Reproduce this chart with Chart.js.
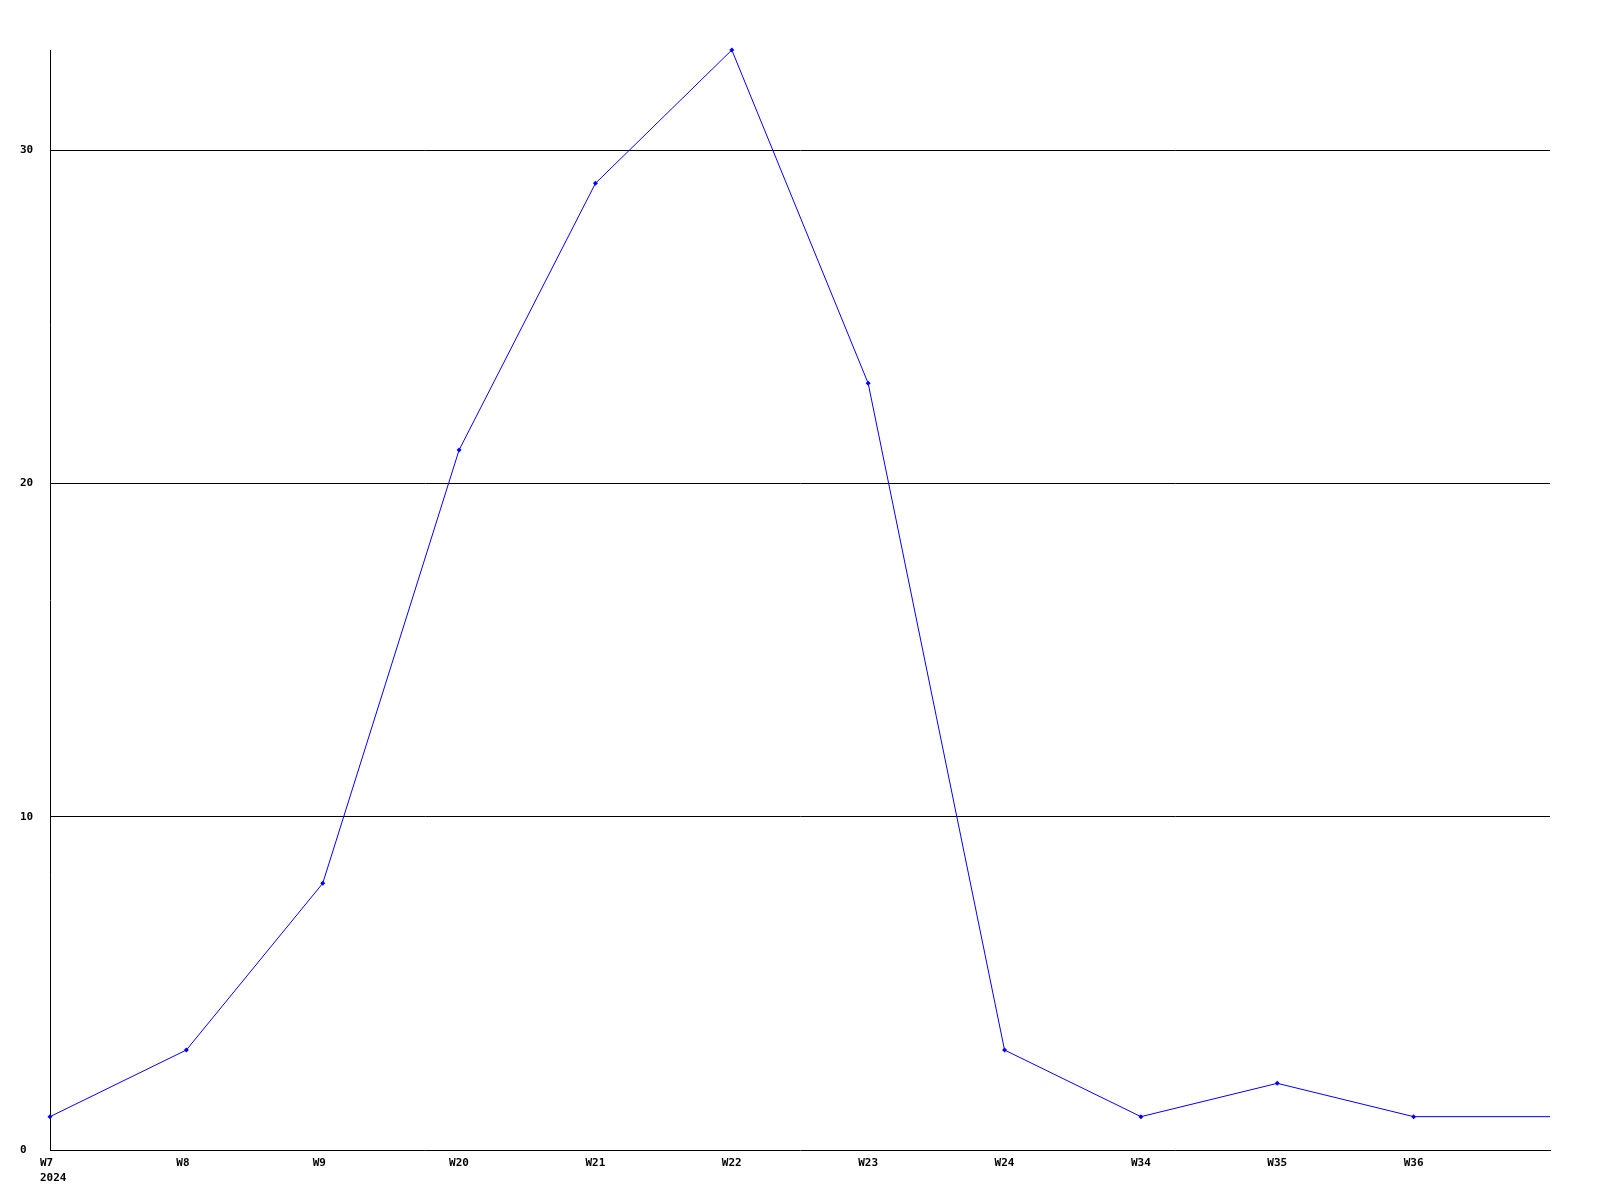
<!DOCTYPE html>
<html>
<head>
<meta charset="utf-8">
<script src="https://cdn.jsdelivr.net/npm/chart.js@4/dist/chart.umd.min.js"></script>
<style>
html,body{margin:0;padding:0;background:#fff;}
#wrap{width:1600px;height:1200px;}
</style>
</head>
<body>
<div id="wrap"><canvas id="c" width="1600" height="1200"></canvas></div>
<script>
const categories = [["W7","2024"], "W8", "W9", "W20", "W21", "W22", "W23", "W24", "W34", "W35", "W36", ""];
const seriesValues = [1, 3, 8, 21, 29, 33, 23, 3, 1, 2, 1, 1];
const yTickValues = [0, 10, 20, 30];
const yMax = 33;

const tickFont = {family: "'DejaVu Sans Mono', 'Liberation Mono', monospace", size: 11, weight: 'bold', lineHeight: 1.35};

new Chart(document.getElementById('c'), {
  type: 'line',
  data: {
    labels: categories,
    datasets: [{
      data: seriesValues,
      borderColor: '#0000ff',
      backgroundColor: '#0000ff',
      borderWidth: 1,
      pointStyle: 'rectRot',
      pointRadius: ctx => (ctx.dataIndex === categories.length - 1 ? 0 : 2.5),
      pointBorderWidth: 0,
      pointHoverRadius: 2.5,
      tension: 0,
      fill: false,
      clip: false
    }]
  },
  options: {
    responsive: false,
    animation: false,
    events: [],
    layout: {padding: {left: 20, top: 50, right: 50, bottom: 0}},
    plugins: {legend: {display: false}, tooltip: {enabled: false}},
    scales: {
      x: {
        offset: false,
        grid: {display: false, drawTicks: false},
        border: {display: true, color: '#000', width: 1},
        ticks: {color: '#000', font: tickFont, padding: 6, maxRotation: 0, autoSkip: false, align: 'start', labelOffset: -10},
        afterFit: s => { s.height = 50; }
      },
      y: {
        min: 0,
        max: yMax,
        grid: {
          drawTicks: false,
          color: ctx => (ctx.tick && ctx.tick.value === 0) ? 'rgba(0,0,0,0)' : '#000',
          lineWidth: 1
        },
        border: {display: true, color: '#000', width: 1},
        ticks: {color: '#000', font: tickFont, crossAlign: 'far', padding: 0, stepSize: 10},
        afterBuildTicks: s => { s.ticks = yTickValues.map(v => ({value: v})); },
        afterFit: s => { s.width = 30; }
      }
    }
  }
});
</script>
</body>
</html>
